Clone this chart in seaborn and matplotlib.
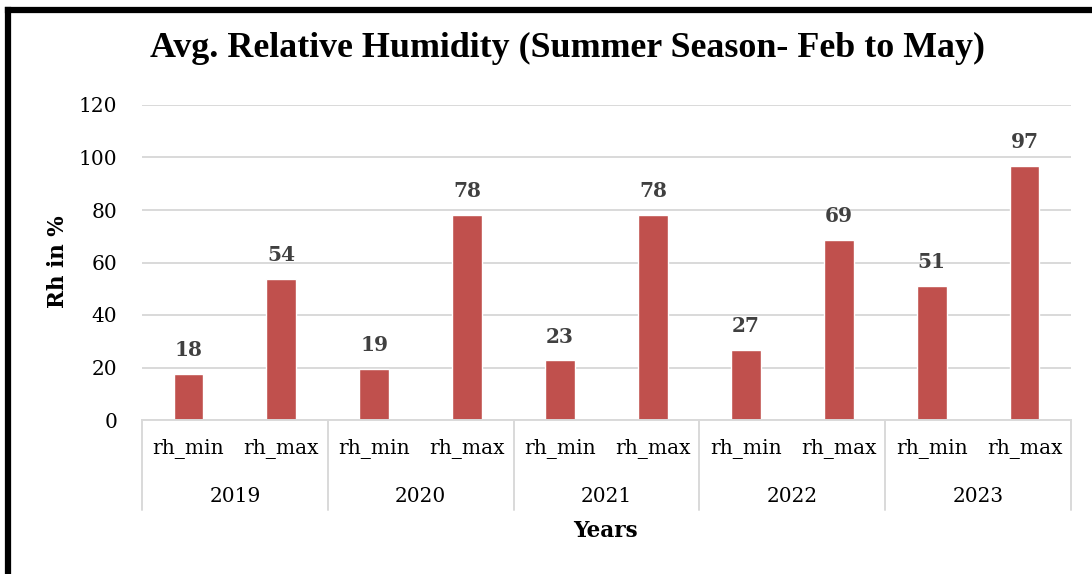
import matplotlib
matplotlib.use("Agg")
import matplotlib.pyplot as plt
import seaborn as sns
import pandas as pd
from matplotlib.lines import Line2D
from matplotlib.transforms import blended_transform_factory

years = ["2019", "2020", "2021", "2022", "2023"]
measures = ["rh_min", "rh_max"]
rh_min = [17.6, 19.3, 22.7, 26.6, 51.2]
rh_max = [53.6, 78.1, 78.1, 68.6, 96.7]

rows = []
for i, y in enumerate(years):
    rows.append({"slot": f"{y} rh_min", "year": y, "measure": "rh_min", "value": rh_min[i]})
    rows.append({"slot": f"{y} rh_max", "year": y, "measure": "rh_max", "value": rh_max[i]})
df = pd.DataFrame(rows)

sns.set_theme(style="white")
serif = ["DejaVu Serif"]
plt.rcParams["font.family"] = serif
plt.rcParams["text.color"] = "black"
plt.rcParams["axes.labelcolor"] = "black"

fig = plt.figure(figsize=(10.92, 5.74), dpi=100)
ax = fig.add_axes([142/1092, 1 - 420/574, (1071-142)/1092, (420-105)/574])

bar_color = "#C0504D"
sns.barplot(data=df, x="slot", y="value", order=list(df["slot"]), color=bar_color,
            width=0.32, ax=ax, errorbar=None, saturation=1)

ax.set_ylim(0, 120)
ax.set_xlim(-0.5, len(df) - 0.5)
ax.set_yticks(range(0, 121, 20))
ax.yaxis.grid(True, color="#D9D9D9", linewidth=1.4)
ax.set_axisbelow(True)
for s in ["top", "right", "left"]:
    ax.spines[s].set_visible(False)
ax.spines["bottom"].set_color("#D9D9D9")
ax.spines["bottom"].set_linewidth(1.4)

ax.tick_params(axis="y", length=0, pad=18, labelsize=14.5, labelcolor="black")
ax.set_xticks(range(len(df)))
ax.set_xticklabels(list(df["measure"]), fontsize=14.5)
ax.tick_params(axis="x", length=0, pad=14, labelcolor="black")
for lbl in ax.get_yticklabels():
    lbl.set_horizontalalignment("right")

# value labels
for p, v in zip(ax.patches, df["value"]):
    ax.annotate(f"{v:.0f}", (p.get_x() + p.get_width() / 2, p.get_height()),
                xytext=(0, 10), textcoords="offset points", ha="center", va="bottom",
                fontsize=14.5, fontweight="bold", color="#404040")

# year group labels and separators
trans = blended_transform_factory(ax.transData, ax.transAxes)
ax_h = (420 - 105)
for i, y in enumerate(years):
    ax.text(2 * i + 0.5, -(496 - 420) / ax_h, y, transform=trans, ha="center",
            va="center", fontsize=14.5, color="black")
for k in range(len(years) + 1):
    xpos = 2 * k - 0.5
    ax.add_line(Line2D([xpos, xpos], [0, -(510 - 420) / ax_h], transform=trans,
                       color="#D9D9D9", linewidth=1.4, clip_on=False))

ax.set_xlabel("")
ax.set_ylabel("")
fig.text(605/1092, 1 - 531/574, "Years", ha="center", va="center",
         fontsize=15.5, fontweight="bold", color="black")
fig.text(58/1092, 1 - 262/574, "Rh in %", ha="center", va="center", rotation=90,
         fontsize=15.5, fontweight="bold", color="black")

fig.text(567/1092, 1 - 48/574, "Avg. Relative Humidity (Summer Season- Feb to May)",
         ha="center", va="center", fontsize=25.8, fontweight="bold", color="black",
         family=["Liberation Serif", "DejaVu Serif"])

# outer border (top and left only visible)
fig.add_artist(Line2D([8/1092, 1], [1 - 10/574, 1 - 10/574], transform=fig.transFigure,
                      color="black", linewidth=4.5, solid_capstyle="projecting"))
fig.add_artist(Line2D([8/1092, 8/1092], [1 - 10/574, 0], transform=fig.transFigure,
                      color="black", linewidth=4.5, solid_capstyle="projecting"))

fig.savefig("out.png", dpi=100)
